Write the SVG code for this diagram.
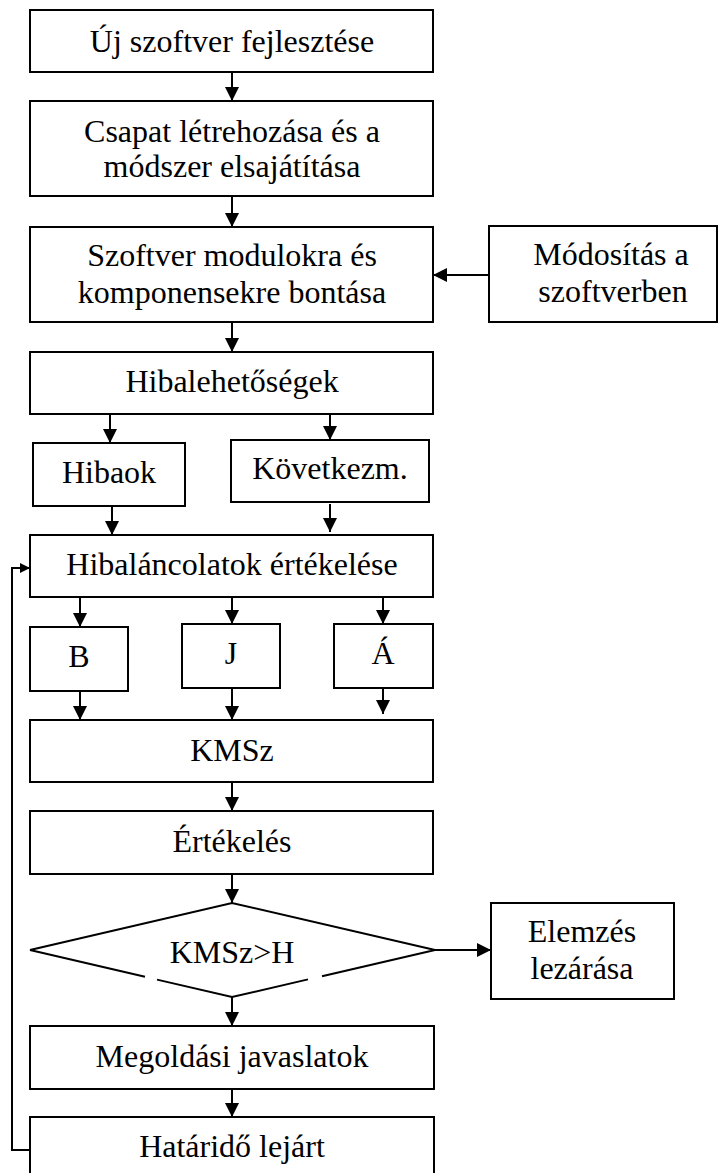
<svg xmlns="http://www.w3.org/2000/svg" width="718" height="1173" viewBox="0 0 718 1173">
<style>
.box{fill:#fff;stroke:#000;stroke-width:2}
.t{font-family:"Liberation Serif","Times New Roman",serif;font-size:32px;fill:#000;text-anchor:middle}
.c{fill:none;stroke:#000;stroke-width:2}
</style>
<defs>
<marker id="ah" markerUnits="userSpaceOnUse" markerWidth="14" markerHeight="14" refX="14" refY="7" orient="auto"><path d="M0,0 L14,7 L0,14 z" fill="#000"/></marker>
<marker id="ahs" markerUnits="userSpaceOnUse" markerWidth="10" markerHeight="10" refX="10" refY="5" orient="auto"><path d="M0,0 L10,5 L0,10 z" fill="#000"/></marker>
</defs>
<rect width="718" height="1173" fill="#fff"/>
<g id="connectors">
<line class="c" x1="232" y1="72" x2="232" y2="101" marker-end="url(#ah)"/>
<line class="c" x1="232" y1="196" x2="232" y2="227" marker-end="url(#ah)"/>
<line class="c" x1="489" y1="275" x2="433" y2="275" marker-end="url(#ah)"/>
<line class="c" x1="232" y1="322" x2="232" y2="352" marker-end="url(#ah)"/>
<line class="c" x1="110" y1="414" x2="110" y2="443" marker-end="url(#ah)"/>
<line class="c" x1="330" y1="414" x2="330" y2="440" marker-end="url(#ah)"/>
<line class="c" x1="112" y1="506" x2="112" y2="535" marker-end="url(#ah)"/>
<line class="c" x1="330" y1="504" x2="330" y2="532" marker-end="url(#ah)"/>
<line class="c" x1="80" y1="597" x2="80" y2="627" marker-end="url(#ah)"/>
<line class="c" x1="232" y1="597" x2="232" y2="624" marker-end="url(#ah)"/>
<line class="c" x1="383" y1="597" x2="383" y2="624" marker-end="url(#ah)"/>
<line class="c" x1="80" y1="691" x2="80" y2="720" marker-end="url(#ah)"/>
<line class="c" x1="232" y1="688" x2="232" y2="720" marker-end="url(#ah)"/>
<line class="c" x1="383" y1="686" x2="383" y2="714" marker-end="url(#ah)"/>
<line class="c" x1="232" y1="782" x2="232" y2="811" marker-end="url(#ah)"/>
<line class="c" x1="232" y1="874" x2="232" y2="903" marker-end="url(#ah)"/>
<line class="c" x1="435" y1="950" x2="491" y2="950" marker-end="url(#ah)"/>
<line class="c" x1="232" y1="997" x2="232" y2="1026" marker-end="url(#ah)"/>
<line class="c" x1="232" y1="1089" x2="232" y2="1117" marker-end="url(#ah)"/>
<polyline class="c" points="30,1150 12,1150 12,568 30,568" marker-end="url(#ahs)"/>
</g>
<g id="n1"><rect class="box" x="30" y="10" width="403" height="62"/><text class="t" x="232" y="52">Új szoftver fejlesztése</text></g>
<g id="n2"><rect class="box" x="30" y="101" width="403" height="95"/><text class="t" x="232" y="142">Csapat létrehozása és a</text><text class="t" x="232" y="177">módszer elsajátítása</text></g>
<g id="n3"><rect class="box" x="30" y="227" width="403" height="95"/><text class="t" x="232" y="266">Szoftver modulokra és</text><text class="t" x="232" y="303">komponensekre bontása</text></g>
<g id="mod"><rect class="box" x="489" y="226" width="228" height="96"/><text class="t" x="611" y="265">Módosítás a</text><text class="t" x="613" y="302">szoftverben</text></g>
<g id="n4"><rect class="box" x="30" y="352" width="403" height="62"/><text class="t" x="232" y="392">Hibalehetőségek</text></g>
<g id="hibaok"><rect class="box" x="33" y="443" width="152" height="63"/><text class="t" x="109" y="483">Hibaok</text></g>
<g id="kovetkezm"><rect class="box" x="231" y="440" width="198" height="62"/><text class="t" x="330" y="479">Következm.</text></g>
<g id="n5"><rect class="box" x="30" y="535" width="403" height="62"/><text class="t" x="232" y="575">Hibaláncolatok értékelése</text></g>
<g id="b"><rect class="box" x="30" y="627" width="98" height="64"/><text class="t" x="79" y="667">B</text></g>
<g id="j"><rect class="box" x="182" y="624" width="98" height="64"/><text class="t" x="231" y="664">J</text></g>
<g id="a"><rect class="box" x="334" y="624" width="99" height="64"/><text class="t" x="383" y="664">Á</text></g>
<g id="kmsz"><rect class="box" x="30" y="720" width="403" height="62"/><text class="t" x="232" y="761">KMSz</text></g>
<g id="ertekeles"><rect class="box" x="30" y="811" width="403" height="63"/><text class="t" x="232" y="852">Értékelés</text></g>
<g id="decision"><path class="c" d="M30,950 L232,903 L435,950 L322,976.2 M308,979.4 L232,997 L157,979.6 M145,976.8 L30,950"/><text class="t" x="232" y="963">KMSz&gt;H</text></g>
<g id="elemzes"><rect class="box" x="491" y="903" width="183" height="96"/><text class="t" x="582" y="942">Elemzés</text><text class="t" x="582" y="979">lezárása</text></g>
<g id="megoldas"><rect class="box" x="30" y="1026" width="404" height="63"/><text class="t" x="232" y="1067">Megoldási javaslatok</text></g>
<g id="hatarido"><rect class="box" x="30" y="1117" width="404" height="70"/><text class="t" x="232" y="1157">Határidő lejárt</text></g>
</svg>
